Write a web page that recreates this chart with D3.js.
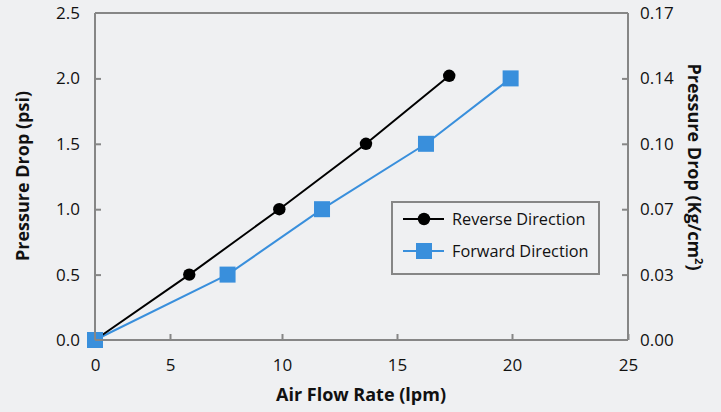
<!DOCTYPE html>
<html><head><meta charset="utf-8">
<script src="https://cdn.jsdelivr.net/npm/d3@7/dist/d3.min.js"></script>
<style>
html,body{margin:0;padding:0;background:#eff0f2;}
svg{display:block;font-family:"Open Sans",sans-serif;}
</style></head><body>
<svg id="c" width="721" height="412"></svg>
<script>
const xTicks = [0, 5, 10, 15, 20, 25];
const yTicks = [0, 0.5, 1.0, 1.5, 2.0, 2.5];
const yRightLabels = ["0.00", "0.03", "0.07", "0.10", "0.14", "0.17"];
const reverseX = [0, 5.86, 9.88, 13.65, 17.27];
const reverseY = [0, 0.5, 1.0, 1.5, 2.02];
const forwardX = [0, 7.57, 11.74, 16.26, 19.94];
const forwardY = [0, 0.5, 1.0, 1.5, 2.0];
const seriesNames = ["Reverse Direction", "Forward Direction"];

const svg = d3.select("#c");
const L = 95, R = 628, T = 13, B = 340;
// the reference's x axis is unevenly spaced between 0 and 5
const x = d3.scaleLinear().domain(xTicks).range([95, 170, 282, 397, 512, 628]);
const y = d3.scaleLinear().domain([0, 2.5]).range([B, T]);
const axisColor = "#868686";
const blue = "#398fdc";
const textColor = "#111";

const rev = reverseX.map((v, i) => [v, reverseY[i]]);
const fwd = forwardX.map((v, i) => [v, forwardY[i]]);
const line = d3.line().x(d => x(d[0])).y(d => y(d[1]));

svg.append("path").datum(fwd).attr("d", line).attr("fill", "none").attr("stroke", blue).attr("stroke-width", 2);
svg.append("path").datum(rev).attr("d", line).attr("fill", "none").attr("stroke", "#000").attr("stroke-width", 2);
svg.selectAll(".rc").data(rev).join("circle").attr("cx", d => x(d[0])).attr("cy", d => y(d[1])).attr("r", 6.2).attr("fill", "#000");
svg.selectAll(".fs").data(fwd).join("rect").attr("x", d => x(d[0]) - 8).attr("y", d => y(d[1]) - 8).attr("width", 16).attr("height", 16).attr("fill", blue);

// axes
const gx = svg.append("g").attr("transform", `translate(0,${B})`)
  .call(d3.axisBottom(x).tickValues(xTicks).tickSize(-6).tickPadding(19).tickFormat(d3.format("d")));
const gy = svg.append("g").attr("transform", `translate(${L},0)`)
  .call(d3.axisLeft(y).tickValues(yTicks).tickSize(-6).tickPadding(15).tickFormat(d3.format(".1f")));
const gr = svg.append("g").attr("transform", `translate(${R},0)`)
  .call(d3.axisRight(y).tickValues(yTicks).tickSize(-6).tickPadding(12).tickFormat((d, i) => yRightLabels[i]));
[gx, gy, gr].forEach(g => {
  g.select(".domain").attr("stroke", axisColor).attr("stroke-width", 2);
  g.selectAll(".tick line").attr("stroke", axisColor).attr("stroke-width", 2);
  g.selectAll(".tick text").attr("fill", textColor).attr("font-size", 17).attr("font-family", "Open Sans");
});
gx.select(".tick:first-of-type line").remove();
gy.selectAll(".tick line").filter(d => d === 0 || d === 2.5).remove();
gr.selectAll(".tick line").filter(d => d === 0 || d === 2.5).remove();
svg.append("line").attr("x1", L).attr("x2", R).attr("y1", T).attr("y2", T).attr("stroke", axisColor).attr("stroke-width", 2);
gx.select(".domain").attr("d", `M${L},0H${R}`);
gy.select(".domain").attr("d", `M0,${T}V${B}`);
gr.select(".domain").attr("d", `M0,${T}V${B}`);

// titles
svg.append("text").attr("x", 361).attr("y", 401).attr("text-anchor", "middle")
  .attr("font-weight", "bold").attr("font-size", 18).attr("fill", textColor).text("Air Flow Rate (lpm)");
svg.append("text").attr("transform", "translate(29,176) rotate(-90)").attr("text-anchor", "middle")
  .attr("font-weight", "bold").attr("font-size", 18).attr("fill", textColor).text("Pressure Drop (psi)");
const rt = svg.append("text").attr("transform", "translate(688,167) rotate(90)").attr("text-anchor", "middle")
  .attr("font-weight", "bold").attr("font-size", 18).attr("fill", textColor);
rt.append("tspan").text("Pressure Drop (Kg/cm");
rt.append("tspan").attr("font-size", 11).attr("dy", -7).text("2");
rt.append("tspan").attr("dy", 7).text(")");

// legend
const lg = svg.append("g");
lg.append("rect").attr("x", 392).attr("y", 202).attr("width", 207).attr("height", 72)
  .attr("fill", "#eff0f2").attr("stroke", axisColor).attr("stroke-width", 2);
const items = [{name: seriesNames[0], c: "#000", sym: "circle", yy: 219}, {name: seriesNames[1], c: blue, sym: "square", yy: 251}];
items.forEach(it => {
  lg.append("line").attr("x1", 403).attr("x2", 444).attr("y1", it.yy).attr("y2", it.yy).attr("stroke", it.c).attr("stroke-width", 2);
  if (it.sym === "circle") lg.append("circle").attr("cx", 424).attr("cy", it.yy).attr("r", 6.2).attr("fill", it.c);
  else lg.append("rect").attr("x", 416).attr("y", it.yy - 8).attr("width", 16).attr("height", 16).attr("fill", it.c);
  lg.append("text").attr("x", 452).attr("y", it.yy).attr("dy", "0.35em").attr("font-size", 16.3).attr("fill", textColor).text(it.name);
});
</script>
</body></html>
